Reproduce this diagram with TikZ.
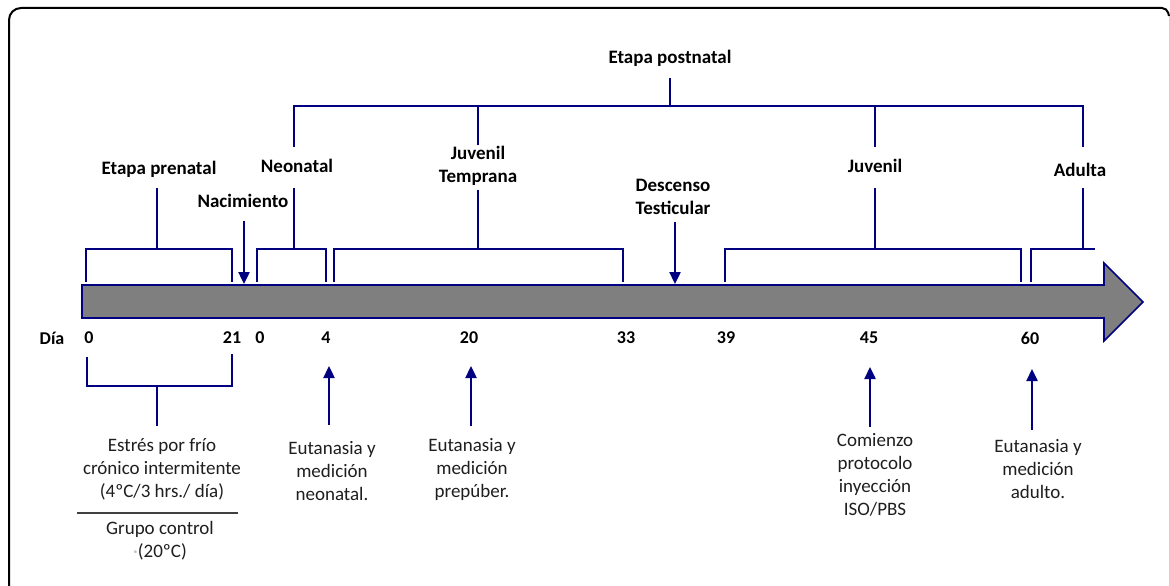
\documentclass[tikz,border=0pt]{standalone}
\usepackage{fontspec}
\setmainfont{Carlito}
\usetikzlibrary{arrows.meta}
\definecolor{navy}{RGB}{0,0,128}
\definecolor{bargray}{RGB}{127,127,127}
\definecolor{txtcol}{RGB}{30,30,30}
\begin{document}
\begin{tikzpicture}[x=1pt,y=-1pt,
  br/.style={draw=navy,line width=2.4pt},
  ptr/.style={draw=navy,line width=2.4pt,-{Triangle[length=12pt,width=11pt]}},
  lab/.style={font=\fontsize{19}{23}\selectfont\bfseries,align=center,inner sep=0pt,text=black},
  txt/.style={font=\fontsize{19}{23}\selectfont,align=center,inner sep=0pt,text=txtcol},
  num/.style={font=\fontsize{18}{22}\selectfont\bfseries,inner sep=0pt,text=black}]
\useasboundingbox (0,0) rectangle (1170,586);
\clip (0,0) rectangle (1170,586);
% frame
\draw[line width=2pt,rounded corners=12pt] (9,620) -- (9,8) -- (1040,8);
\draw[line width=2pt,rounded corners=5pt] (1000,8) -- (1167,8) -- (1169,16);
\draw[gray!35,line width=0.8pt] (1169,16) -- (1169,586);
% timeline arrow
\draw[fill=bargray,draw=navy,line width=1.6pt,line join=miter]
  (82,285) -- (1104,285) -- (1104,263) -- (1143,302) -- (1104,341) -- (1104,318) -- (82,318) -- cycle;
% labels top
\node[lab] (post) at (670,58) {Etapa postnatal};
\node[lab] (pre) at (159,169) {Etapa prenatal};
\node[lab] (nac) at (243,201) {Nacimiento};
\node[lab] (neo) at (297,166) {Neonatal};
\node[lab] (jt) at (478,166) {Juvenil\\Temprana};
\node[lab] (desc) at (673,197) {Descenso\\Testicular};
\node[lab] (juv) at (875,166) {Juvenil};
\node[lab] (adu) at (1080,170) {Adulta};
% coordinates
\coordinate (postS) at (670,78);
\coordinate (postB) at (670,106);
\coordinate (neoT) at (294,147);
\coordinate (jtT) at (478,145);
\coordinate (juvT) at (875,147);
\coordinate (aduT) at (1083,147);
\coordinate (preS) at (157,188);
\coordinate (neoS) at (294,188);
\coordinate (jtS) at (478,190);
\coordinate (juvS) at (875,188);
\coordinate (aduS) at (1083,188);
\coordinate (preB) at (157,249);
\coordinate (neoB) at (294,249);
\coordinate (jtB) at (478,249);
\coordinate (juvB) at (875,249);
\coordinate (aduB) at (1083,249);
% postnatal top bar
\draw[br] (neoT) -- (294,106) -- (1083,106) -- (aduT);
\draw[br] (jtT) -- (478,106);
\draw[br] (juvT) -- (875,106);
\draw[br] (postB) -- (postS);
% lower brackets
\draw[br] (86,282) -- (86,249) -- (232,249) -- (232,282);
\draw[br] (preB) -- (preS);
\draw[br] (257,282) -- (257,249) -- (326,249) -- (326,282);
\draw[br] (neoB) -- (neoS);
\draw[br] (334,282) -- (334,249) -- (623,249) -- (623,282);
\draw[br] (jtB) -- (jtS);
\draw[br] (725,282) -- (725,249) -- (1021,249) -- (1021,282);
\draw[br] (juvB) -- (juvS);
\draw[br] (1031,282) -- (1031,249) -- (1095,249);
\draw[br] (aduB) -- (aduS);
% down arrows
\coordinate (nacS) at (244,221);
\coordinate (nacE) at (244,284);
\coordinate (descS) at (675,222);
\coordinate (descE) at (675,284);
\draw[ptr] (nacS) -- (nacE);
\draw[ptr] (descS) -- (descE);
% day numbers
\node[num] (dia) at (52,338) {Día};
\node[num] (d0a) at (89,338) {0};
\node[num] (d21) at (232,338) {21};
\node[num] (d0b) at (260,338) {0};
\node[num] (d4) at (326,338) {4};
\node[num] (d20) at (469,338) {20};
\node[num] (d33) at (626,338) {33};
\node[num] (d39) at (726,338) {39};
\node[num] (d45) at (869,338) {45};
\node[num] (d60) at (1030,338) {60};
% bottom bracket
\draw[br] (87,357) -- (87,386) -- (232,386) -- (232,354);
\coordinate (stB) at (157,386);
\coordinate (stE) at (157,426);
\draw[br] (stB) -- (stE);
\node[txt] (stress) at (162,469) {Estrés por frío\\crónico intermitente\\(4ºC/3 hrs./ día)};
\coordinate (sepL) at (77,513);
\coordinate (sepR) at (238,513);
\draw[draw=black!75,line width=1.2pt] (sepL) -- (sepR);
\node[txt] (ctrl) at (160,541) {Grupo control\\{\color{gray!50}·}(20ºC)};
% up arrows
\node[txt] (e1) at (332,471) {Eutanasia y\\medición\\neonatal.};
\node[txt] (e2) at (472,469) {Eutanasia y\\medición\\prepúber.};
\node[txt] (e3) at (875,475) {Comienzo\\protocolo\\inyección\\ISO/PBS};
\node[txt] (e4) at (1038,469) {Eutanasia y\\medición\\adulto.};
\coordinate (a1s) at (329,425); \coordinate (a1e) at (329,366);
\coordinate (a2s) at (471,426); \coordinate (a2e) at (471,366);
\coordinate (a3s) at (870,427); \coordinate (a3e) at (870,367);
\coordinate (a4s) at (1032,430); \coordinate (a4e) at (1032,369);
\draw[ptr] (a1s) -- (a1e);
\draw[ptr] (a2s) -- (a2e);
\draw[ptr] (a3s) -- (a3e);
\draw[ptr] (a4s) -- (a4e);
\end{tikzpicture}
\end{document}
